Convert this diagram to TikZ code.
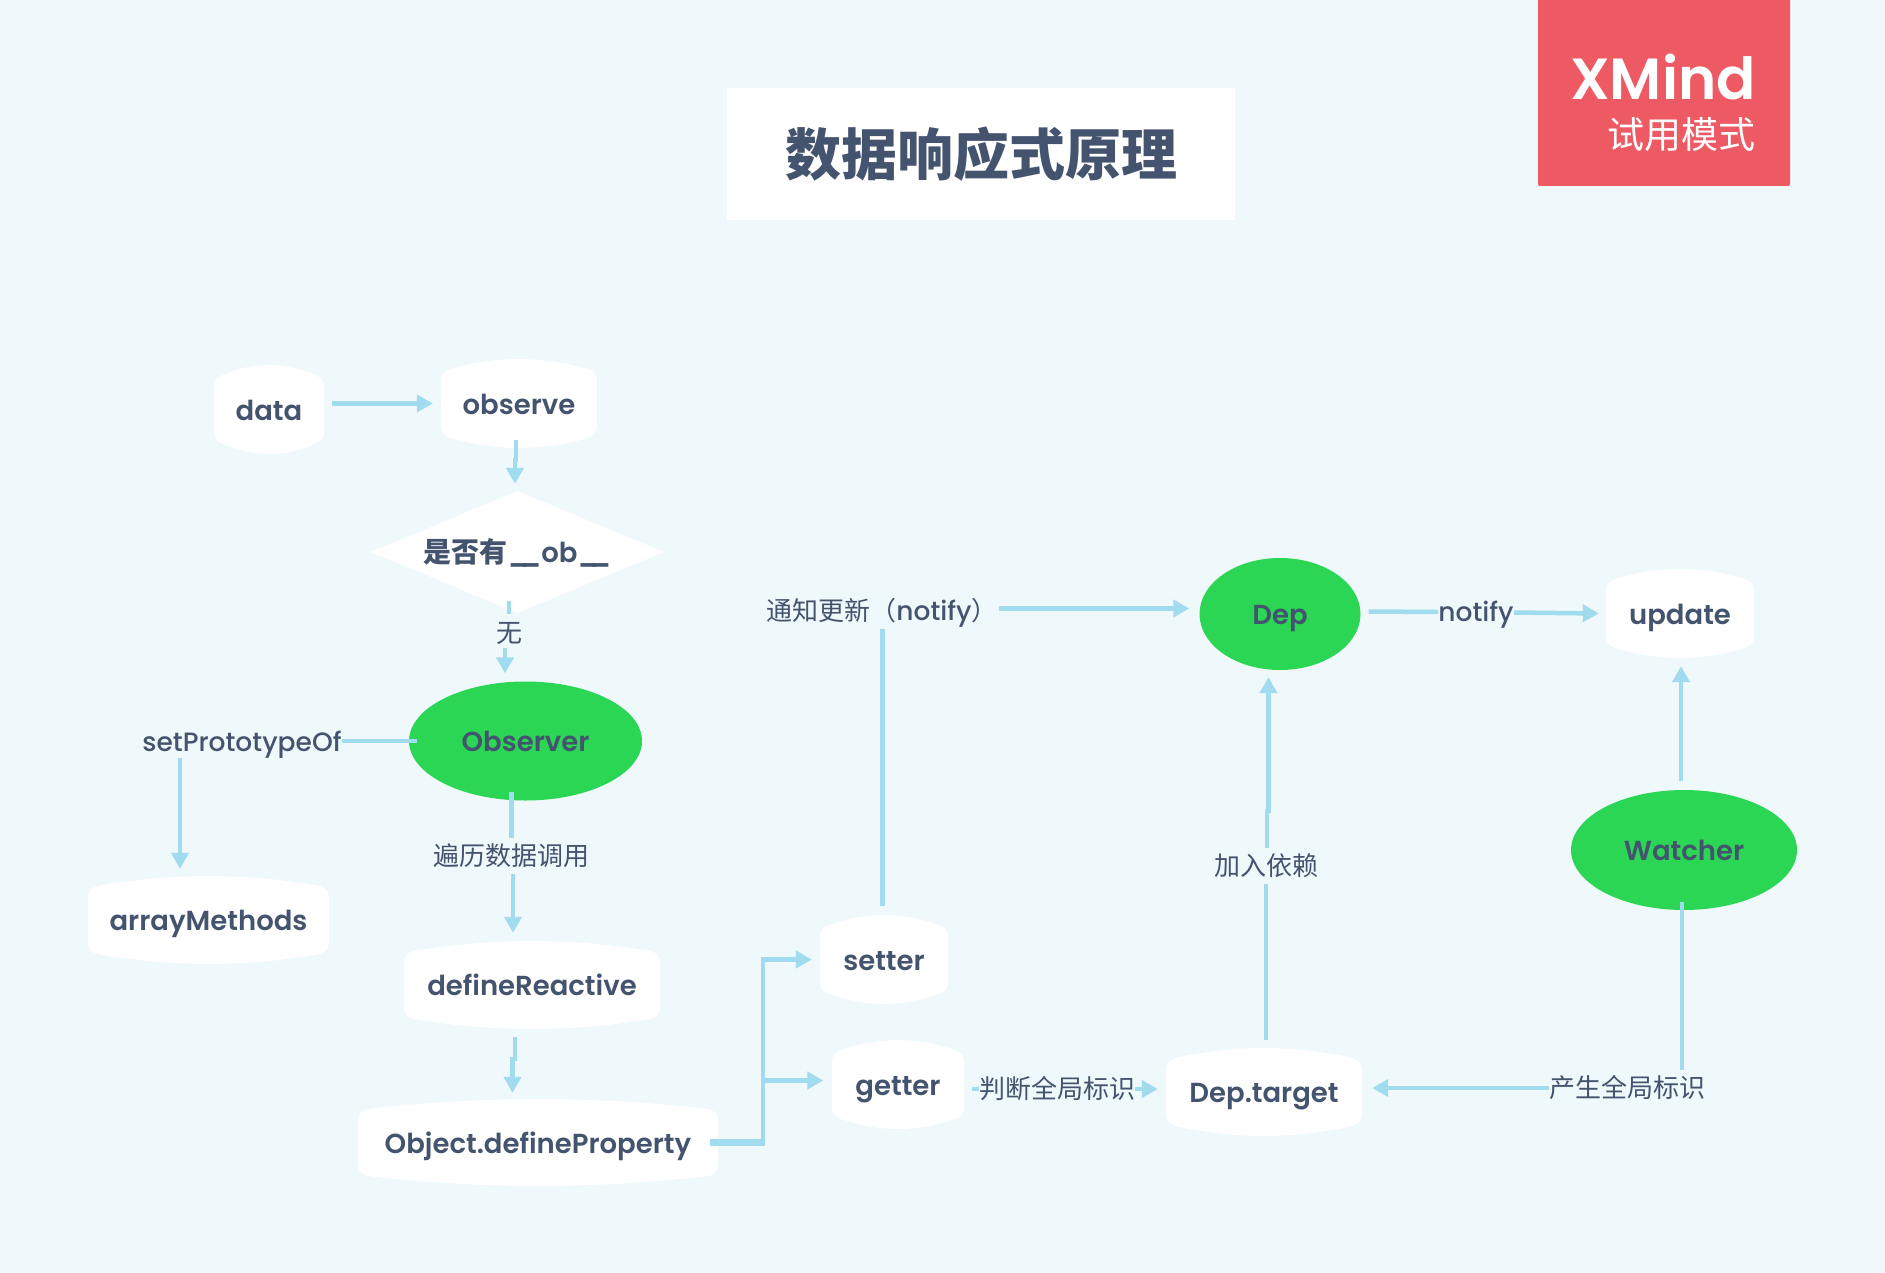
\documentclass[tikz,border=0pt]{standalone}
\usepackage{fontspec}
\setmainfont[BoldFont={Poppins SemiBold}]{Poppins Medium}
\newfontfamily\cjk{Noto Sans CJK SC}
\usetikzlibrary{shapes.geometric}
\usetikzlibrary{positioning}
\usetikzlibrary{calc,arrows.meta}

\definecolor{paper}{HTML}{EFF8FB}
\definecolor{ink}{HTML}{44546F}
\definecolor{wire}{HTML}{A0DBEF}
\definecolor{leaf}{HTML}{2BD654}
\definecolor{badgered}{HTML}{EE5A64}

\tikzset{
  nodetext/.style={text=ink,inner sep=0pt,text height=23.5pt,text depth=2.5pt,
    font=\fontsize{27.5}{30}\selectfont\bfseries},
  barrel/.style={nodetext,rectangle,path picture={
    \path (path picture bounding box.north west) coordinate (tl)
          (path picture bounding box.south east) coordinate (br);
    \fill[white] let \p1=(tl), \p2=(br), \n1={(\x2-\x1-18pt)/3} in
      (\x1,\y1-24pt) .. controls (\x1,\y1-15pt) and (\x1+2pt,\y1-13pt) .. (\x1+9pt,\y1-10pt)
      .. controls (\x1+9pt+\n1,\y1+3.3pt) and (\x2-9pt-\n1,\y1+3.3pt) .. (\x2-9pt,\y1-10pt)
      .. controls (\x2-2pt,\y1-13pt) and (\x2,\y1-15pt) .. (\x2,\y1-24pt)
      -- (\x2,\y2+24pt)
      .. controls (\x2,\y2+15pt) and (\x2-2pt,\y2+13pt) .. (\x2-9pt,\y2+10pt)
      .. controls (\x2-9pt-\n1,\y2-3.3pt) and (\x1+9pt+\n1,\y2-3.3pt) .. (\x1+9pt,\y2+10pt)
      .. controls (\x1+2pt,\y2+13pt) and (\x1,\y2+15pt) .. (\x1,\y2+24pt) -- cycle;
  }},
  hub/.style={nodetext,ellipse,fill=leaf},
  tag/.style={text=ink,inner sep=0pt,text height=22.5pt,text depth=3.5pt,
    font=\fontsize{26.5}{30}\selectfont},
  zhtag/.style={tag,font=\cjk\fontsize{26}{30}\selectfont},
  link/.style={draw=wire,line width=4.5pt},
  flow/.style={link,-{Triangle[length=16pt,width=17pt]}}
}

\begin{document}
\begin{tikzpicture}[x=1pt,y=-1pt]
  \path[use as bounding box,fill=paper] (0,0) rectangle (1885,1273);

  % title and badge
  \node[fill=white,minimum width=508pt,minimum height=132pt,text=ink,
    font=\cjk\fontsize{56}{60}\selectfont\bfseries] (title) at (981,154) {数据响应式原理};
  \node[fill=badgered,rounded corners=2pt,minimum width=252pt,minimum height=196pt] (badge) at (1664,88) {};
  \node[anchor=east,inner sep=0pt,text=white,font=\fontsize{58}{60}\selectfont\bfseries] (brand) at (1756,77) {XMind};
  \node[anchor=east,inner sep=0pt,text=white,font=\cjk\fontsize{37}{40}\selectfont] (trial) at (1756,135) {试用模式};

  % boxes
  \node[barrel,minimum width=110pt,minimum height=89pt] (data) at (269,409.5) {data};
  \node[barrel,minimum width=156pt,minimum height=89pt] (observe) at (519,403.5) {observe};
  \node[nodetext,diamond,aspect=2.4,fill=white,minimum width=293pt,minimum height=122pt] (check) at (517.5,552)
    {{\cjk\fontsize{28}{30}\selectfont 是否有}\_\kern-10pt\_ob\_\kern-10pt\_};
  \node[hub,minimum width=233pt,minimum height=119pt] (observer) at (525.5,741) {Observer};
  \node[barrel,minimum width=241pt,minimum height=88pt] (arrayMethods) at (208.5,920) {arrayMethods};
  \node[barrel,minimum width=256pt,minimum height=88pt] (defineReactive) at (532,985) {defineReactive};
  \node[barrel,minimum width=360pt,minimum height=87pt] (defineProperty) at (538,1142.5) {Object.defineProperty};
  \node[barrel,minimum width=128pt,minimum height=89pt] (setter) at (884,959.5) {setter};
  \node[barrel,minimum width=132pt,minimum height=89pt] (getter) at (898,1084.5) {getter};
  \node[barrel,minimum width=196pt,minimum height=88pt] (depTarget) at (1264,1092) {Dep.target};
  \node[hub,minimum width=161pt,minimum height=112pt] (dep) at (1280,614) {Dep};
  \node[barrel,minimum width=148pt,minimum height=89pt] (update) at (1680,613.5) {update};
  \node[hub,minimum width=226pt,minimum height=120pt] (watcher) at (1684,850) {Watcher};

  % labels on the wires
  \node[zhtag] (none) at (509,633) {无};
  \node[tag] (proto) at (242,742) {setPrototypeOf};
  \node[zhtag] (walk) at (511,856) {遍历数据调用};
  \node[zhtag] (judge) at (1057,1089) {判断全局标识};
  \node[zhtag] (join) at (1266,866) {加入依赖};
  \node[zhtag] (mark) at (1627,1088) {产生全局标识};
  \node[tag] (tell) at (882,611) {{\cjk\fontsize{26}{30}\selectfont 通知更新（}notify{\cjk\fontsize{26}{30}\selectfont ）}};
  \node[tag] (notify) at (1476,612) {notify};

  % left column
  \draw[flow] (data.east |- observe.west) ++(8,0) -- ([shift={(-8,0)}]observe.west);
  \draw[flow] (observe.south) ++(-3,-8) -- ++(0,20) -- ++(-1,0) -- ([shift={(-2.5,-7)}]check.north);
  \draw[link] (none.north |- check.south) ++(0,-12) -- ++(0,13);
  \draw[flow] (none.south) ++(-4,2) -- ([shift={(-20.5,-8)}]observer.north);
  \draw[link] (observer.west) ++(8,0) -- (proto.east |- observer.west);
  \draw[flow] (proto.south) ++(-62,3) -- ([shift={(-28.5,-7)}]arrayMethods.north);
  \draw[link] (observer.south) ++(-14,-9) -- ([shift={(0.5,-5)}]walk.north);
  \draw[flow] (walk.south) ++(2,5) -- ([shift={(-19,-8)}]defineReactive.north);
  \draw[flow] (defineReactive.south) ++(-17,8) -- ++(0,22) -- ++(-2.5,0) -- ([shift={(-25.5,-6)}]defineProperty.north);

  % accessors
  \draw[flow] (defineProperty.east) ++(-8,-1.5) -- ++(53,0) |- ([shift={(-8,0)}]setter.west);
  \draw[flow] (defineProperty.east) ++(-8,1.5) -- ++(53,0) |- ([shift={(-8.5,-4)}]getter.west);
  \draw[link] (getter.east |- judge.west) ++(8,0) -- (judge.west);
  \draw[flow,shorten >=8pt] (judge.east) -- (depTarget.west |- judge.east);

  % right side
  \draw[link] (depTarget.north) ++(2,-8) -- ([shift={(0,5)}]join.south);
  \draw[flow] (join.north) ++(1,-5) -- ++(0,-37) -- ++(1.5,0) -- ([shift={(-11.5,7)}]dep.south);
  \draw[link] (watcher.south) ++(-2,-8) -- ([shift={(55,-5)}]mark.north);
  \draw[flow,shorten >=10pt] (mark.west) -- (depTarget.east |- mark.west);
  \draw[flow] (watcher.north) ++(-3,-9) -- ([shift={(1,8)}]update.south);
  \draw[link] (setter.north) ++(-1.5,-9) -- ([shift={(0.5,5)}]tell.south);
  \draw[flow] (tell.east) ++(1,-2.5) -- ([shift={(-10,-5.5)}]dep.west);
  \draw[link] (dep.east) ++(8,-2.5) -- (notify.west);
  \draw[flow] (notify.east) ++(0,0.5) -- ([shift={(-7,0)}]update.west);
\end{tikzpicture}
\end{document}
